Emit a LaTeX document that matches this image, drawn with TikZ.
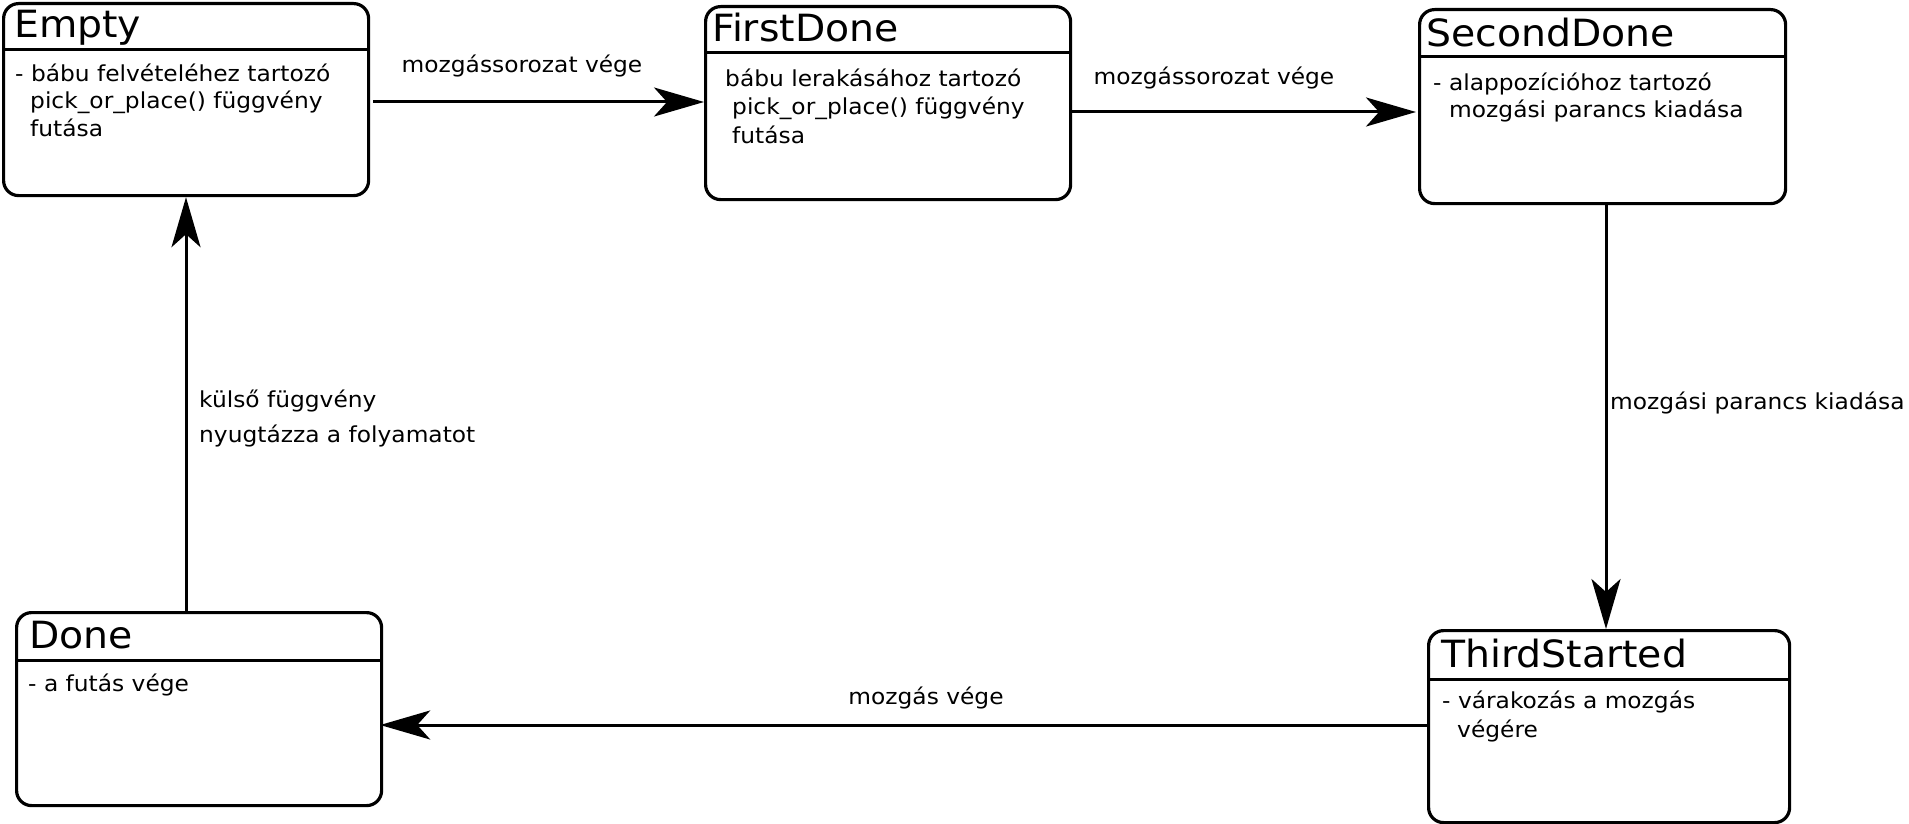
\documentclass[tikz,border=0pt]{standalone}
\usepackage{fontspec}
\setmainfont{DejaVu Sans}
\newfontfamily\titlefont{DejaVu Sans}[FakeStretch=1.05]
\newfontfamily\bodyfont{DejaVu Sans}[FakeStretch=1.06]
\usetikzlibrary{arrows.meta}
\begin{document}
\begin{tikzpicture}[x=1pt,y=-1pt,
  statebox/.style={draw, line width=3.2pt, rounded corners=15pt, inner sep=0pt, anchor=north west, minimum width=365pt, minimum height=193pt},
  sep/.style={line width=3pt},
  ttl/.style={anchor=base west, inner sep=0pt, font=\titlefont\fontsize{37.5}{42}\selectfont},
  txt/.style={anchor=base west, inner sep=0pt, font=\bodyfont\fontsize{22}{26}\selectfont},
  lbl/.style={anchor=base, inner sep=0pt, font=\bodyfont\fontsize{22}{26}\selectfont},
  conn/.style={line width=3pt, -{Stealth[length=50pt,width=29pt,inset=13pt]}},
]
\useasboundingbox (0,0) rectangle (1909,824);

% boxes
\node[statebox, minimum height=192pt] (empty) at (2,2) {};
\node[statebox] (first) at (704,5) {};
\node[statebox, minimum width=366pt, minimum height=194pt] (second) at (1418,8) {};
\node[statebox, minimum width=361pt, minimum height=192pt] (third) at (1427,629) {};
\node[statebox] (done) at (15,611) {};

% header separators
\draw[sep] (empty.west |- 0,50) -- (empty.east |- 0,50);
\draw[sep] (first.west |- 0,53) -- (first.east |- 0,53);
\draw[sep] (second.west |- 0,57) -- (second.east |- 0,57);
\draw[sep] (third.west |- 0,679) -- (third.east |- 0,679);
\draw[sep] (done.west |- 0,660) -- (done.east |- 0,660);

% titles
\node[ttl] (emptyT) at (14,38) {Empty};
\node[ttl] (firstT) at (712,42) {FirstDone};
\node[ttl] (secondT) at (1426,47) {SecondDone};
\node[ttl] (thirdT) at (1441,667) {ThirdStarted};
\node[ttl] (doneT) at (29,648) {Done};

% bodies
\node[txt] (emptyB1) at (15,82) {- bábu felvételéhez tartozó};
\node[txt] (emptyB2) at (30,109) {pick\_or\_place() függvény};
\node[txt] (emptyB3) at (30,137) {futása};
\node[txt] (firstB1) at (725,87) {bábu lerakásához tartozó};
\node[txt] (firstB2) at (732,115) {pick\_or\_place() függvény};
\node[txt] (firstB3) at (732,143) {futása};
\node[txt] (secondB1) at (1433,91) {- alappozícióhoz tartozó};
\node[txt] (secondB2) at (1449,118) {mozgási parancs kiadása};
\node[txt] (thirdB1) at (1442,708) {- várakozás a mozgás};
\node[txt] (thirdB2) at (1457,737) {végére};
\node[txt] (doneB1) at (28,691) {- a futás vége};

% connectors
\draw[conn, shorten <=3pt] (empty.east |- 0,102) -- (first.west |- 0,102);
\draw[conn, shorten >=2pt] (first.east |- 0,112) -- (second.west |- 0,112);
\draw[conn] (second.south -| 1606,0) -- (third.north -| 1606,0);
\draw[conn, shorten >=-3pt] (third.west |- 0,725) -- (done.east |- 0,725);
\draw[conn] (done.north -| 186,0) -- (empty.south -| 186,0);

% labels
\node[lbl] (l1) at (522,73) {mozgássorozat vége};
\node[lbl] (l2) at (1214,85) {mozgássorozat vége};
\node[lbl, anchor=base west] (l3) at (1610,409) {mozgási parancs kiadása};
\node[lbl] (l4) at (926,704) {mozgás vége};
\node[lbl, anchor=base west] (l5a) at (199,407) {külső függvény};
\node[lbl, anchor=base west] (l5b) at (199,442) {nyugtázza a folyamatot};
\end{tikzpicture}
\end{document}
